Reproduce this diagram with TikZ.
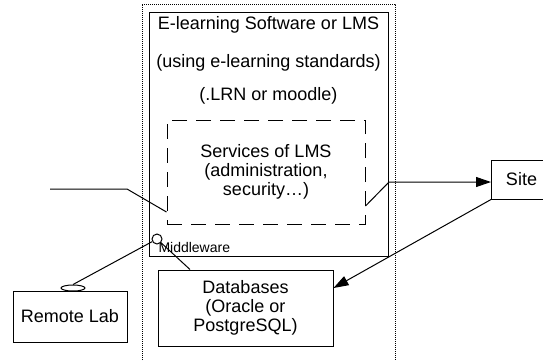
\documentclass[tikz,border=0pt]{standalone}
\usepackage{fontspec}
\setmainfont{Liberation Sans}
\usetikzlibrary{arrows.meta,calc,shapes.geometric}

\begin{document}
\begin{tikzpicture}[x=1pt,y=-1pt,line width=1pt,
  box/.style={draw,inner sep=0pt,align=center,font=\fontsize{18}{19}\selectfont},
  title/.style={inner sep=0pt,font=\fontsize{18}{19}\selectfont},
  bigarrow/.style={-{Triangle[length=15pt,width=10pt]}}]
\useasboundingbox (0,0) rectangle (543,360);
% outer dotted frame
\draw[line width=0.8pt,dash pattern=on 1pt off 1pt] (142,360) -- (142,4) -- (395,4) -- (395,360);
% LMS block
\node[box,minimum width=239pt,minimum height=244pt] (lms) at (268.5,134) {};
\node[title] (t1) at (268.5,25) {E-learning Software or LMS};
\node[title] (t2) at (268.5,63) {(using e-learning standards)};
\node[title] (t3) at (268.5,96) {(.LRN or moodle)};
\node[box,dash pattern=on 15pt off 9pt,minimum width=198pt,minimum height=104pt] (svc) at (266,172)
  {Services of LMS\\(administration,\\security\ldots)};
% other boxes
\node[box,minimum width=60pt,minimum height=39pt] (site) at (521.5,179.5) {Site};
\node[box,minimum width=175pt,minimum height=76pt] (dbs) at (245.5,308)
  {Databases\\(Oracle or\\PostgreSQL)};
\node[box,minimum width=114pt,minimum height=51pt] (lab) at (70,316.5) {Remote Lab};
% middleware
\node[draw,ellipse,minimum width=24pt,minimum height=6pt,inner sep=0pt] (plug) at (73,288) {};
\node[draw,circle,minimum size=10pt,inner sep=0pt] (mw) at (157,239) {};
\node[anchor=base west,inner sep=0pt,font=\fontsize{14}{14}\selectfont] (mwlabel) at (158,252) {Middleware};
\coordinate (c1) at (50,189);
\coordinate (c2) at (127,189);
\coordinate (c3) at (389,182);
% connectors
\draw (c1) -- (c2) -- (svc.west |- 0,212);
\draw[bigarrow] (svc.east |- 0,206) -- (c3) -- (site.west |- c3);
\draw[bigarrow] (site.south west) -- ([yshift=20pt]dbs.east);
\draw (plug.north) -- (mw);
\draw (mw) -- (dbs.north -| 190,0);
\end{tikzpicture}
\end{document}
